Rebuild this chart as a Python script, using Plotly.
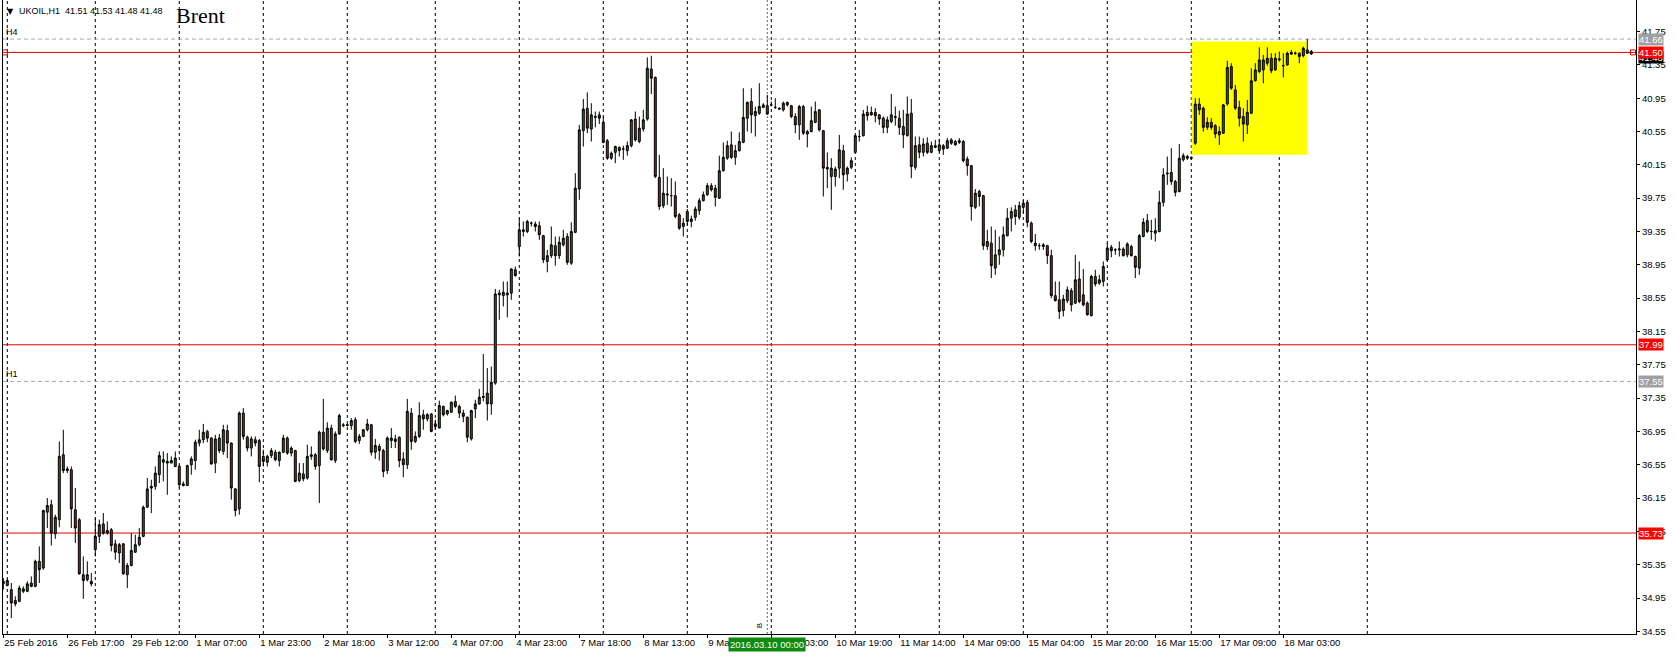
import plotly.graph_objects as go

# ---------------- data (UKOIL H1) ----------------
opens = [
    35.12, 35.10, 35.05, 34.92, 34.91, 35.03, 35.03, 35.13, 35.09, 35.39,
    35.31, 35.98, 36.07, 35.72, 35.89, 36.67, 36.48, 36.49, 36.01, 35.89,
    35.23, 35.17, 35.15, 35.53, 35.69, 35.84, 35.76, 35.77, 35.60, 35.49,
    35.60, 35.23, 35.34, 35.50, 35.59, 35.69, 36.04, 36.27, 36.29, 36.43,
    36.58, 36.57, 36.57, 36.53, 36.53, 36.30, 36.30, 36.55, 36.60, 36.81,
    36.85, 36.95, 36.87, 36.57, 36.87, 36.71, 36.96, 36.81, 36.26, 36.02,
    37.17, 36.88, 36.75, 36.85, 36.84, 36.65, 36.58, 36.66, 36.70, 36.60,
    36.70, 36.87, 36.69, 36.72, 36.36, 36.44, 36.39, 36.67, 36.67, 36.54,
    36.94, 36.72, 36.99, 36.60, 36.92, 37.03, 37.02, 37.02, 37.09, 36.84,
    36.89, 36.97, 37.03, 36.70, 36.77, 36.72, 36.48, 36.84, 36.86, 36.88,
    36.62, 36.55, 37.17, 36.83, 36.89, 37.15, 37.10, 37.16, 37.04, 36.99,
    37.25, 37.16, 37.18, 37.31, 37.25, 37.17, 37.12, 36.86, 37.22, 37.28,
    37.37, 37.41, 37.28, 37.53, 38.61, 38.58, 38.59, 38.61, 38.89, 39.17,
    39.35, 39.35, 39.45, 39.44, 39.42, 39.30, 38.99, 39.06, 39.18, 39.06,
    39.19, 39.29, 38.97, 39.34, 39.86, 40.56, 40.83, 40.58, 40.72, 40.75,
    40.66, 40.44, 40.23, 40.30, 40.36, 40.34, 40.32, 40.38, 40.70, 40.43,
    40.58, 40.70, 41.30, 41.20, 40.00, 39.66, 39.80, 39.78, 39.78, 39.55,
    39.41, 39.59, 39.47, 39.52, 39.60, 39.72, 39.79, 39.90, 39.87, 39.75,
    40.08, 40.23, 40.39, 40.24, 40.32, 40.42, 40.71, 40.91, 40.74, 40.77,
    40.84, 40.86, 40.87, 40.84, 40.83, 40.81, 40.90, 40.86, 40.73, 40.63,
    40.85, 40.55, 40.55, 40.66, 40.81, 40.56, 40.12, 40.01, 40.01, 40.11,
    40.32, 40.04, 40.12, 40.30, 40.49, 40.50, 40.78, 40.75, 40.78, 40.75,
    40.71, 40.60, 40.67, 40.73, 40.71, 40.61, 40.50, 40.77, 40.12, 40.39,
    40.30, 40.41, 40.30, 40.36, 40.32, 40.38, 40.35, 40.45, 40.43, 40.42,
    40.43, 40.22, 40.14, 39.64, 39.83, 39.78, 39.17, 39.21, 38.91, 39.07,
    39.13, 39.30, 39.51, 39.61, 39.52, 39.64, 39.70, 39.45, 39.18, 39.18,
    39.17, 39.18, 39.06, 38.58, 38.53, 38.40, 38.52, 38.64, 38.49, 38.78,
    38.59, 38.49, 38.34, 38.81, 38.73, 38.75, 39.01, 39.16, 39.13, 39.13,
    39.14, 39.07, 39.17, 39.05, 38.91, 39.29, 39.48, 39.35, 39.33, 39.35,
    39.70, 40.04, 40.06, 39.95, 39.83, 40.21, 40.25, 40.24, 40.41, 40.88,
    40.83, 40.60, 40.66, 40.62, 40.51, 40.53, 40.88, 41.33, 41.05, 40.84,
    40.73, 40.63, 40.77, 41.16, 41.27, 41.29, 41.37, 41.43, 41.29, 41.41,
    41.34, 41.35, 41.50, 41.49, 41.49, 41.46, 41.53, 41.51,
]
highs = [
    35.19, 35.18, 35.13, 34.97, 35.10, 35.09, 35.15, 35.21, 35.41, 35.57,
    36.01, 36.15, 36.13, 35.95, 36.83, 36.97, 36.53, 36.53, 36.27, 35.91,
    35.45, 35.39, 35.25, 35.91, 35.89, 35.97, 35.87, 35.79, 35.65, 35.61,
    35.61, 35.37, 35.73, 35.71, 35.79, 36.06, 36.39, 36.37, 36.53, 36.71,
    36.71, 36.69, 36.65, 36.71, 36.55, 36.35, 36.55, 36.65, 36.85, 36.97,
    37.04, 36.97, 36.88, 36.91, 36.92, 37.03, 37.03, 36.82, 36.27, 37.19,
    37.23, 36.90, 36.89, 36.89, 36.86, 36.73, 36.67, 36.75, 36.73, 36.71,
    36.91, 36.89, 36.77, 36.73, 36.57, 36.57, 36.79, 36.77, 36.69, 36.96,
    37.34, 37.06, 37.03, 36.95, 37.16, 37.05, 37.04, 37.11, 37.12, 36.92,
    36.98, 37.10, 37.04, 36.86, 36.80, 36.74, 36.89, 36.99, 36.91, 36.89,
    36.70, 37.34, 37.23, 36.95, 37.30, 37.21, 37.17, 37.17, 37.09, 37.32,
    37.26, 37.21, 37.31, 37.38, 37.27, 37.21, 37.13, 37.21, 37.33, 37.46,
    37.88, 37.71, 37.73, 38.66, 38.65, 38.75, 38.75, 38.91, 38.93, 39.51,
    39.47, 39.49, 39.47, 39.47, 39.47, 39.31, 39.13, 39.41, 39.29, 39.29,
    39.37, 39.33, 39.46, 40.05, 40.63, 40.94, 41.02, 40.89, 40.79, 40.79,
    40.73, 40.46, 40.31, 40.38, 40.37, 40.38, 40.43, 40.70, 40.79, 40.73,
    40.81, 41.44, 41.46, 41.21, 40.27, 40.11, 40.01, 39.99, 39.95, 39.57,
    39.51, 39.62, 39.54, 39.65, 39.75, 39.83, 39.93, 39.93, 39.91, 40.26,
    40.42, 40.44, 40.55, 40.39, 40.54, 41.07, 40.91, 41.07, 40.85, 41.13,
    40.89, 40.99, 40.91, 40.95, 40.84, 40.91, 40.91, 40.87, 40.77, 40.87,
    40.87, 40.57, 40.85, 40.91, 40.82, 40.57, 40.30, 40.23, 40.13, 40.51,
    40.39, 40.13, 40.24, 40.51, 40.57, 40.81, 40.86, 40.85, 40.83, 40.76,
    40.73, 40.73, 41.00, 40.85, 40.80, 40.81, 40.97, 40.94, 40.49, 40.49,
    40.47, 40.48, 40.43, 40.45, 40.46, 40.40, 40.47, 40.47, 40.45, 40.47,
    40.45, 40.25, 40.15, 39.86, 39.85, 39.79, 39.37, 39.41, 39.37, 39.29,
    39.41, 39.63, 39.64, 39.67, 39.71, 39.73, 39.73, 39.47, 39.32, 39.21,
    39.21, 39.19, 39.13, 38.75, 38.75, 38.59, 38.69, 38.67, 39.07, 38.99,
    38.90, 38.51, 38.83, 38.89, 38.83, 38.99, 39.21, 39.19, 39.15, 39.23,
    39.16, 39.22, 39.19, 39.06, 39.32, 39.51, 39.56, 39.49, 39.51, 39.84,
    40.11, 40.25, 40.35, 39.97, 40.40, 40.29, 40.27, 40.25, 40.95, 40.95,
    40.85, 40.72, 40.71, 40.64, 40.61, 40.88, 41.40, 41.37, 41.11, 40.92,
    40.83, 40.93, 41.31, 41.37, 41.56, 41.47, 41.56, 41.49, 41.49, 41.51,
    41.49, 41.51, 41.53, 41.51, 41.50, 41.57, 41.66, 41.53,
]
lows = [
    35.05, 35.09, 34.71, 34.85, 34.90, 35.01, 35.02, 35.08, 35.08, 35.13,
    35.29, 35.79, 35.58, 35.66, 35.80, 36.45, 36.45, 35.79, 35.61, 35.23,
    34.94, 35.15, 35.09, 35.45, 35.61, 35.71, 35.71, 35.51, 35.41, 35.37,
    35.23, 35.07, 35.33, 35.49, 35.57, 35.68, 36.03, 35.97, 36.25, 36.33,
    36.35, 36.19, 36.57, 36.52, 36.27, 36.29, 36.30, 36.43, 36.49, 36.77,
    36.81, 36.82, 36.55, 36.45, 36.69, 36.67, 36.63, 36.13, 35.93, 35.95,
    36.85, 36.71, 36.65, 36.77, 36.34, 36.53, 36.53, 36.63, 36.59, 36.53,
    36.69, 36.67, 36.65, 36.34, 36.34, 36.35, 36.37, 36.61, 36.49, 36.09,
    36.72, 36.69, 36.60, 36.57, 36.91, 37.00, 37.01, 36.97, 36.81, 36.80,
    36.88, 36.95, 36.66, 36.62, 36.60, 36.40, 36.44, 36.75, 36.75, 36.52,
    36.40, 36.50, 36.73, 36.81, 36.87, 36.97, 37.07, 36.94, 36.97, 36.99,
    37.13, 37.14, 37.17, 37.23, 37.11, 37.06, 36.82, 36.84, 37.11, 37.27,
    37.31, 37.08, 37.15, 37.51, 38.29, 38.45, 38.32, 38.53, 38.81, 39.05,
    39.29, 39.33, 39.41, 39.35, 39.25, 38.97, 38.86, 39.03, 38.94, 39.02,
    39.17, 38.95, 38.95, 39.33, 39.73, 40.37, 40.53, 40.43, 40.60, 40.64,
    40.41, 40.21, 40.21, 40.17, 40.25, 40.21, 40.26, 40.36, 40.43, 40.41,
    40.55, 40.68, 41.00, 39.99, 39.61, 39.63, 39.67, 39.65, 39.51, 39.37,
    39.29, 39.42, 39.40, 39.48, 39.55, 39.71, 39.78, 39.83, 39.65, 39.74,
    40.07, 40.21, 40.22, 40.15, 40.31, 40.41, 40.55, 40.53, 40.49, 40.75,
    40.83, 40.75, 40.85, 40.82, 40.81, 40.79, 40.85, 40.71, 40.53, 40.45,
    40.51, 40.36, 40.54, 40.65, 40.55, 39.77, 39.87, 39.61, 39.89, 39.99,
    39.85, 39.95, 40.10, 40.29, 40.43, 40.49, 40.68, 40.74, 40.66, 40.63,
    40.53, 40.53, 40.65, 40.62, 40.51, 40.35, 40.49, 39.99, 40.09, 40.23,
    40.25, 40.28, 40.29, 40.35, 40.31, 40.27, 40.34, 40.39, 40.38, 40.40,
    40.18, 40.02, 39.48, 39.62, 39.65, 39.13, 39.13, 38.79, 38.83, 38.95,
    39.05, 39.29, 39.35, 39.43, 39.49, 39.57, 39.40, 39.21, 39.12, 39.13,
    39.13, 38.96, 38.55, 38.51, 38.30, 38.33, 38.49, 38.39, 38.48, 38.49,
    38.45, 38.34, 38.33, 38.69, 38.71, 38.69, 38.99, 39.04, 39.07, 39.05,
    39.05, 39.04, 39.05, 38.79, 38.83, 39.28, 39.33, 39.25, 39.23, 39.34,
    39.65, 39.91, 39.91, 39.77, 39.82, 40.19, 40.21, 40.21, 40.39, 40.75,
    40.55, 40.57, 40.57, 40.47, 40.39, 40.52, 40.86, 41.05, 40.81, 40.61,
    40.43, 40.52, 40.76, 41.15, 41.25, 41.13, 41.34, 41.25, 41.28, 41.39,
    41.20, 41.34, 41.47, 41.47, 41.37, 41.44, 41.48, 41.47,
]
closes = [
    35.15, 35.16, 34.89, 34.88, 35.07, 35.06, 35.12, 35.09, 35.39, 35.29,
    36.00, 36.06, 35.73, 35.92, 36.65, 36.48, 36.50, 36.02, 35.79, 35.24,
    35.16, 35.23, 35.12, 35.69, 35.83, 35.73, 35.73, 35.58, 35.50, 35.59,
    35.24, 35.34, 35.52, 35.59, 35.68, 36.04, 36.26, 36.29, 36.45, 36.66,
    36.61, 36.59, 36.60, 36.63, 36.31, 36.32, 36.54, 36.62, 36.82, 36.85,
    36.94, 36.87, 36.56, 36.86, 36.72, 36.97, 36.81, 36.27, 36.00, 37.17,
    36.89, 36.75, 36.86, 36.81, 36.53, 36.59, 36.65, 36.72, 36.61, 36.70,
    36.87, 36.69, 36.75, 36.35, 36.45, 36.38, 36.65, 36.65, 36.53, 36.94,
    36.74, 36.99, 36.61, 36.92, 37.14, 37.02, 37.03, 37.08, 36.83, 36.89,
    36.97, 37.04, 36.70, 36.78, 36.72, 36.47, 36.87, 36.87, 36.83, 36.60,
    36.55, 37.19, 36.83, 36.89, 37.14, 37.10, 37.15, 36.95, 37.01, 37.26,
    37.15, 37.20, 37.30, 37.25, 37.17, 37.13, 36.88, 37.20, 37.28, 37.36,
    37.36, 37.28, 37.54, 38.60, 38.59, 38.62, 38.61, 38.90, 38.82, 39.37,
    39.37, 39.47, 39.45, 39.41, 39.31, 39.01, 39.06, 39.19, 39.06, 39.22,
    39.27, 38.98, 39.35, 39.87, 40.57, 40.82, 40.59, 40.75, 40.73, 40.71,
    40.42, 40.23, 40.29, 40.37, 40.32, 40.34, 40.38, 40.69, 40.45, 40.59,
    40.69, 41.31, 41.19, 40.01, 39.65, 39.81, 39.79, 39.78, 39.53, 39.39,
    39.45, 39.47, 39.50, 39.62, 39.72, 39.79, 39.90, 39.85, 39.76, 40.08,
    40.24, 40.38, 40.24, 40.32, 40.43, 40.72, 40.90, 40.75, 40.79, 40.85,
    40.87, 40.76, 40.87, 40.84, 40.82, 40.89, 40.87, 40.73, 40.63, 40.85,
    40.53, 40.52, 40.68, 40.79, 40.57, 40.11, 40.10, 40.11, 40.10, 40.33,
    40.03, 40.11, 40.20, 40.50, 40.49, 40.76, 40.74, 40.78, 40.74, 40.70,
    40.60, 40.69, 40.75, 40.72, 40.60, 40.51, 40.76, 40.13, 40.38, 40.30,
    40.40, 40.30, 40.38, 40.38, 40.39, 40.34, 40.44, 40.41, 40.39, 40.44,
    40.20, 40.14, 39.65, 39.81, 39.77, 39.18, 39.23, 38.94, 39.07, 39.13,
    39.31, 39.51, 39.59, 39.53, 39.66, 39.69, 39.46, 39.23, 39.21, 39.18,
    39.19, 39.06, 38.58, 38.52, 38.39, 38.54, 38.65, 38.47, 38.77, 38.51,
    38.47, 38.35, 38.81, 38.72, 38.77, 38.93, 39.15, 39.12, 39.13, 39.14,
    39.06, 39.20, 39.06, 38.92, 39.30, 39.46, 39.35, 39.35, 39.36, 39.70,
    40.03, 40.05, 39.95, 39.82, 40.23, 40.26, 40.23, 40.23, 40.88, 40.81,
    40.60, 40.66, 40.60, 40.52, 40.55, 40.87, 41.32, 41.07, 40.83, 40.71,
    40.64, 40.78, 41.16, 41.29, 41.41, 41.41, 41.43, 41.28, 41.43, 41.42,
    41.34, 41.49, 41.48, 41.49, 41.45, 41.55, 41.49, 41.48,
]
assert len(opens) == len(highs) == len(lows) == len(closes)
bars = list(range(len(opens)))

# time labels (every 16 bars)
tick_bars = [16 * k for k in range(21)]
tick_labels = ["25 Feb 2016", "26 Feb 17:00", "29 Feb 12:00", "1 Mar 07:00", "1 Mar 23:00",
               "2 Mar 18:00", "3 Mar 12:00", "4 Mar 07:00", "4 Mar 23:00", "7 Mar 18:00",
               "8 Mar 13:00", "9 Mar 07:00", "10 Mar 03:00", "10 Mar 19:00", "11 Mar 14:00",
               "14 Mar 09:00", "15 Mar 04:00", "15 Mar 20:00", "16 Mar 15:00", "17 Mar 09:00",
               "18 Mar 03:00"]
# day-start bars (vertical grid)
day_start_bars = [1, 23, 44, 65, 86, 108, 129, 150, 171, 192, 213, 234, 255, 276, 297, 319, 341]
price_ticks = [round(34.55 + 0.40 * k, 2) for k in range(19)]

red_levels = [41.50, 37.99, 35.73]
gray_levels = [41.66, 37.55]
gray_names = ["H4", "H1"]
last_price = 41.48
cursor_bar = 191
cursor_text = "2016.03.10 00:00"
zone_bars = [297.1, 325.9]
zone_prices = [40.27, 41.63]
header_text = "UKOIL,H1  41.51 41.53 41.48 41.48"

# ---------------- layout geometry ----------------
W, H = 1676, 657
ML, MR, MT, MB = 3, 40, 0, 23
PW, PH = W - ML - MR, H - MT - MB
BAR_PX = 4.0
X0_PX = 3.3  # pixel of bar 0
x_lo = (ML - X0_PX) / BAR_PX
x_hi = x_lo + PW / BAR_PX
y_lo, y_hi = 34.518, 42.129

def pxx(px):
    return (px - ML) / PW

def pxy(py):
    return 1 - (py - MT) / PH

def px_bar(px):
    return (px - X0_PX) / BAR_PX

FONT = "Liberation Sans"
RED = "#E00000"

fig = go.Figure()

fig.add_trace(go.Candlestick(
    x=bars, open=opens, high=highs, low=lows, close=closes,
    increasing=dict(line=dict(color="black", width=1), fillcolor="#237023"),
    decreasing=dict(line=dict(color="black", width=1), fillcolor="#A81E1E"),
    whiskerwidth=0, showlegend=False, hoverinfo="skip",
))

# small handle squares at the ends of the 41.50 line
fig.add_trace(go.Scatter(
    x=[px_bar(5), px_bar(1633)], y=[red_levels[0]] * 2, mode="markers",
    marker=dict(symbol="square-open", size=5, color=RED, line=dict(width=1, color=RED)),
    showlegend=False, hoverinfo="skip", cliponaxis=False,
))

shapes = []
shapes.append(dict(type="rect", xref="x", yref="y", x0=zone_bars[0], x1=zone_bars[1],
                   y0=zone_prices[0], y1=zone_prices[1], fillcolor="#FFFF00",
                   line=dict(width=0), layer="below"))
for b in day_start_bars:
    shapes.append(dict(type="line", xref="x", yref="paper", x0=b, x1=b, y0=0, y1=1,
                       line=dict(color="black", width=1, dash="3px,3px"), layer="below"))
shapes.append(dict(type="line", xref="x", yref="paper", x0=cursor_bar, x1=cursor_bar, y0=0, y1=1,
                   line=dict(color="#2E8B2E", width=1, dash="2px,2px"), layer="below"))
for lv in gray_levels:
    shapes.append(dict(type="line", xref="paper", yref="y", x0=0, x1=1, y0=lv, y1=lv,
                       line=dict(color="#A8A8A8", width=1, dash="4px,3px"), layer="below"))
for lv in red_levels:
    shapes.append(dict(type="line", xref="paper", yref="y", x0=0, x1=1, y0=lv, y1=lv,
                       line=dict(color=RED, width=1), layer="below"))

ann = []
ann.append(dict(text="▼", xref="paper", yref="paper", x=pxx(10), y=pxy(11), showarrow=False,
                font=dict(family="DejaVu Sans", size=8, color="black"), xanchor="center", yanchor="middle"))
ann.append(dict(text=header_text, xref="paper", yref="paper", x=pxx(17), y=pxy(11), showarrow=False,
                font=dict(family=FONT, size=9, color="black"), xanchor="left", yanchor="middle"))
ann.append(dict(text="Brent", xref="paper", yref="paper", x=pxx(174), y=pxy(16), showarrow=False,
                font=dict(family="Liberation Serif", size=22, color="black"), xanchor="left", yanchor="middle"))
for lv, nm in zip(gray_levels, gray_names):
    ann.append(dict(text=nm, xref="paper", yref="y", x=pxx(4), y=lv, yshift=0, showarrow=False,
                    font=dict(family=FONT, size=9, color="black"), xanchor="left", yanchor="bottom"))
# right price boxes
ann.append(dict(text=f"{last_price:.2f}", xref="paper", yref="y", x=1, y=last_price, xshift=2, yshift=-3,
                showarrow=False, font=dict(family=FONT, size=9.5, color="white"), bgcolor="black",
                xanchor="left", yanchor="middle", borderpad=0))
for lv in gray_levels:
    ann.append(dict(text=f"{lv:.2f}", xref="paper", yref="y", x=1, y=lv, xshift=2, showarrow=False,
                    font=dict(family=FONT, size=9.5, color="white"), bgcolor="#A0A0A0",
                    xanchor="left", yanchor="middle", borderpad=0))
for lv in red_levels:
    ann.append(dict(text=f"{lv:.2f}", xref="paper", yref="y", x=1, y=lv, xshift=2, showarrow=False,
                    font=dict(family=FONT, size=9.5, color="white"), bgcolor="#FF0000",
                    xanchor="left", yanchor="middle", borderpad=0))
ann.append(dict(text=cursor_text, xref="x", yref="paper", x=cursor_bar, y=pxy(645), showarrow=False,
                font=dict(family=FONT, size=9.5, color="white"), bgcolor="#0E8A0E",
                xanchor="center", yanchor="middle", borderpad=1))
ann.append(dict(text="B", xref="x", yref="paper", x=cursor_bar - 2, y=pxy(626), showarrow=False,
                textangle=-90, font=dict(family=FONT, size=8, color="black"),
                xanchor="center", yanchor="middle"))

fig.update_layout(
    width=W, height=H,
    margin=dict(l=ML, r=MR, t=MT, b=MB, pad=0, autoexpand=False),
    paper_bgcolor="white", plot_bgcolor="white",
    shapes=shapes, annotations=ann, showlegend=False,
    xaxis=dict(range=[x_lo, x_hi], rangeslider=dict(visible=False), showgrid=False, zeroline=False,
               tickmode="array", tickvals=tick_bars, ticktext=tick_labels, tickangle=0,
               ticklabelposition="outside right", ticks="outside", ticklen=3, tickcolor="black",
               showline=True, linecolor="black", linewidth=1,
               tickfont=dict(family=FONT, size=9.5, color="black")),
    yaxis=dict(range=[y_lo, y_hi], side="right", showgrid=False, zeroline=False,
               tickmode="array", tickvals=price_ticks, ticktext=[f"{p:.2f}" for p in price_ticks],
               ticks="outside", ticklen=3, tickcolor="black",
               showline=True, linecolor="black", linewidth=1, mirror=True,
               tickfont=dict(family=FONT, size=9.5, color="black")),
    hovermode=False,
)

fig.write_html("out.html", config={"displayModeBar": False},
               post_script="document.body.style.margin='0';document.body.style.overflow='hidden';")
